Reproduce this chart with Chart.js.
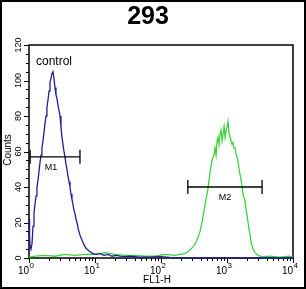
<!DOCTYPE html>
<html>
<head>
<meta charset="utf-8">
<script src="https://cdn.jsdelivr.net/npm/chart.js@4.4.1/dist/chart.umd.min.js"></script>
<style>
  html, body { margin: 0; padding: 0; background: #fff; }
  #wrap { width: 306px; height: 289px; }
</style>
</head>
<body>
<div id="wrap"><canvas id="histChart" width="306" height="289"></canvas></div>
<script>
// control histogram (blue), FL1-H vs counts
const controlX = [1.00, 1.02, 1.04, 1.07, 1.11, 1.15, 1.19, 1.23, 1.28, 1.32, 1.37, 1.42, 1.47, 1.52, 1.57, 1.63,
  1.69, 1.75, 1.81, 1.87, 1.94, 2.01, 2.08, 2.15, 2.23, 2.31, 2.39, 2.48, 2.56, 2.65, 2.75, 2.85, 2.95, 3.05,
  3.16, 3.27, 3.39, 3.51, 3.63, 3.76, 3.90, 4.04, 4.18, 4.33, 4.48, 4.64, 4.80, 4.97, 5.15, 5.33, 5.52, 5.72,
  5.92, 6.35, 6.81, 7.30, 7.83, 8.40, 9.32, 10.3, 11.9, 13.7, 15.8, 18.1, 20.8, 23.9, 28.5, 33.9, 48.1, 68.3,
  96.9, 137, 194, 391, 1100, 3150, 10000];
const controlCounts = [22, 12, 6, 5, 8, 18, 25, 30, 35, 40, 44, 49, 54, 58, 62, 66,
  71, 76, 80, 85, 89, 94, 99, 101, 104, 105, 101, 96, 92, 90, 86, 83, 80, 74,
  68, 64, 60, 57, 53, 50, 46, 43, 40, 36, 33, 30, 27, 25, 22, 20, 17, 15,
  13, 10, 7.5, 5.5, 4.5, 3.5, 2.5, 2, 2.5, 1.5, 2, 1, 1.5, 1, 0.8, 1, 0.5, 0.5,
  0.8, 0.3, 0, 0, 0, 0, 0];

// 293 sample histogram (green)
const sampleX = [1.00, 1.23, 1.75, 2.48, 3.51, 4.97, 7.06, 10.0, 14.2, 20.1, 28.5, 40.4, 57.2, 81.1, 115, 163,
  194, 230, 255, 285, 316, 350, 391, 417, 446, 480, 514, 552, 592,
  636, 659, 683, 707, 732, 758, 785, 813, 842, 872, 903, 935, 968, 1003, 1038, 1075, 1113, 1153, 1194, 1236,
  1280, 1326, 1373, 1421, 1472, 1524, 1578, 1634, 1692, 1752, 1814, 1879, 1945, 2014, 2086, 2160, 2237, 2316,
  2398, 2483, 2663, 2957, 3400, 4480, 6290, 8850, 10000];
const sampleCounts = [0.5, 1, 1.5, 1, 2, 1.5, 2, 2, 3, 2, 1.5, 1.5, 1, 1, 2, 1.5,
  2, 2.5, 3.5, 5, 7, 10, 15, 20, 26, 33, 39, 48, 55,
  58, 62, 58, 66, 68, 64, 70, 72, 66, 70, 74, 68, 72, 74, 77, 70, 68, 66, 64, 65,
  62, 62, 58, 57, 54, 50, 47, 44, 40, 36, 34, 32, 27, 24, 20, 16, 13, 9,
  7, 5, 3, 1.5, 0.8, 1, 0.5, 1, 0.5];

// gates
const markerNames = ['M1', 'M2'];
const markerStart = [1.04, 255];
const markerEnd = [5.92, 3400];
const markerLevel = [57, 40];

// axes
const yTickLabels = [0, 20, 40, 60, 80, 100, 120];
const xDecadeExps = [0, 1, 2, 3, 4];

const blue = '#1e1e96';
const green = '#3ed23e';
const font = '"Liberation Sans", Arial, sans-serif';

const xy = (xs, ys) => xs.map((v, i) => ({ x: v, y: ys[i] }));

const datasets = [];
markerNames.forEach((name, i) => {
  datasets.push({
    label: name,
    data: [{ x: markerStart[i], y: markerLevel[i] }, { x: markerEnd[i], y: markerLevel[i] }],
    borderColor: '#000',
    borderWidth: 1.3,
    pointStyle: 'line',
    rotation: 90,
    pointRadius: 7,
    pointBorderColor: '#000',
    pointBorderWidth: 1.3,
    clip: false
  });
});
datasets.push({
  label: 'control',
  data: xy(controlX, controlCounts),
  borderColor: blue,
  borderWidth: 1.3,
  pointRadius: 0,
  tension: 0,
  clip: 3
});
datasets.push({
  label: '293',
  data: xy(sampleX, sampleCounts),
  borderColor: green,
  borderWidth: 1.3,
  pointRadius: 0,
  tension: 0,
  clip: 3
});

const framePlugin = {
  id: 'frame',
  beforeDatasetsDraw(chart) {
    const { ctx, chartArea: a, scales: { x, y } } = chart;
    ctx.save();
    ctx.strokeStyle = '#000';
    ctx.lineWidth = 1.5;
    ctx.strokeRect(a.left, a.top, a.right - a.left, a.bottom - a.top);

    // y ticks (outward)
    ctx.lineWidth = 1;
    ctx.beginPath();
    for (let v = 0; v <= 120; v += 5) {
      const py = Math.round(y.getPixelForValue(v)) + 0.5;
      const len = v % 20 === 0 ? 5 : 3;
      ctx.moveTo(a.left - len, py);
      ctx.lineTo(a.left, py);
    }
    // x ticks (outward), decades and 2..9
    xDecadeExps.forEach(e => {
      const steps = e < 4 ? [1, 2, 3, 4, 5, 6, 7, 8, 9] : [1];
      steps.forEach(m => {
        const px = Math.round(x.getPixelForValue(m * Math.pow(10, e))) + 0.5;
        const len = m === 1 ? 5 : 3;
        ctx.moveTo(px, a.bottom);
        ctx.lineTo(px, a.bottom + len);
      });
    });
    ctx.stroke();
    ctx.restore();
  },
  afterDraw(chart) {
    const { ctx, chartArea: a, scales: { x, y } } = chart;
    ctx.save();
    ctx.fillStyle = '#000';

    // outer border
    ctx.strokeStyle = '#000';
    ctx.lineWidth = 2;
    ctx.strokeRect(1, 1, chart.width - 2, chart.height - 2);

    // title
    ctx.font = 'bold 25px ' + font;
    ctx.textAlign = 'center';
    ctx.textBaseline = 'middle';
    ctx.fillText('293', 148, 17);

    // y tick labels, rotated
    ctx.font = '9px ' + font;
    yTickLabels.forEach(v => {
      ctx.save();
      ctx.translate(19, y.getPixelForValue(v));
      ctx.rotate(-Math.PI / 2);
      ctx.fillText(String(v), 0, 0);
      ctx.restore();
    });

    // y title
    ctx.save();
    ctx.translate(8, 150);
    ctx.rotate(-Math.PI / 2);
    ctx.font = '10px ' + font;
    ctx.fillText('Counts', 0, 0);
    ctx.restore();

    // x tick labels 10^n
    xDecadeExps.forEach(e => {
      const px = x.getPixelForValue(Math.pow(10, e));
      ctx.font = '10px ' + font;
      ctx.textAlign = 'right';
      ctx.textBaseline = 'alphabetic';
      ctx.fillText('10', px, 274);
      ctx.font = '8px ' + font;
      ctx.textAlign = 'left';
      ctx.fillText(String(e), px + 0.5, 268);
    });

    // x title
    ctx.font = '10px ' + font;
    ctx.textAlign = 'center';
    ctx.textBaseline = 'middle';
    ctx.fillText('FL1-H', 157, 280);

    // control label
    ctx.font = '12px ' + font;
    ctx.textAlign = 'left';
    ctx.fillText('control', 36, 62);

    // gate labels under bars
    ctx.font = '9px ' + font;
    ctx.textAlign = 'center';
    markerNames.forEach((name, i) => {
      const mid = Math.sqrt(markerStart[i] * markerEnd[i]);
      const px = x.getPixelForValue(mid) - (i === 0 ? 4 : 0);
      ctx.fillText(name, px, y.getPixelForValue(markerLevel[i]) + 11);
    });
    ctx.restore();
  }
};

new Chart(document.getElementById('histChart'), {
  type: 'line',
  data: { datasets },
  options: {
    responsive: false,
    animation: false,
    layout: { padding: { left: 29, right: 13, top: 45, bottom: 31 } },
    scales: {
      x: { type: 'logarithmic', min: 1, max: 10000, display: false },
      y: { type: 'linear', min: 0, max: 120, display: false }
    },
    plugins: {
      legend: { display: false },
      tooltip: { enabled: false },
      title: { display: false }
    }
  },
  plugins: [framePlugin]
});
</script>
</body>
</html>
